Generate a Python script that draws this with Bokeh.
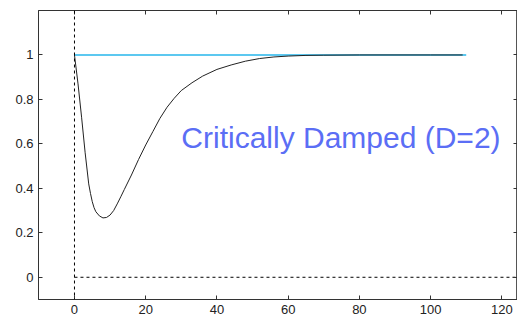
from bokeh.plotting import figure
from bokeh.models import Range1d, LinearAxis, FixedTicker, CustomJSTickFormatter, Span
from bokeh.core.properties import value
from bokeh.embed import file_html
from bokeh.resources import INLINE

# Response curve
t = [0, 1, 2, 3, 4, 4.5, 5, 5.5, 6, 7, 8, 9, 10, 11, 12, 13, 14, 16, 18, 20, 22,
     24, 26, 28, 30, 33, 36, 40, 44, 48, 52, 56, 60, 65, 70, 80, 90, 100, 109]
response = [1.0, 0.87, 0.72, 0.56, 0.42, 0.377, 0.34, 0.313, 0.295, 0.276,
            0.267, 0.269, 0.28, 0.30, 0.33, 0.362, 0.395, 0.46, 0.53, 0.595,
            0.655, 0.715, 0.765, 0.805, 0.84, 0.875, 0.905, 0.935, 0.955,
            0.972, 0.984, 0.991, 0.995, 0.998, 0.999, 1.0, 1.0, 1.0, 1.0]

# Target (set point) line
target_x = [0, 110]
target_y = [1, 1]

# Zero reference line
zero_x = [0, 125]
zero_y = [0, 0]

x_ticks = [0, 20, 40, 60, 80, 100, 120]
y_ticks = [0, 0.2, 0.4, 0.6, 0.8, 1]

label_text = ["Critically Damped (D=2)"]
label_x = [30]
label_y = [0.63]

p = figure(width=517, height=320, output_backend="svg", toolbar_location=None,
           x_range=Range1d(-10.1, 124.4), y_range=Range1d(-0.1, 1.2),
           x_axis_type=None, y_axis_type=None,
           min_border_left=38, min_border_right=0, min_border_top=10, min_border_bottom=21)
p.background_fill_color = "white"
p.border_fill_color = "white"
p.outline_line_color = "#555555"
p.outline_line_width = 1
p.xgrid.visible = False
p.ygrid.visible = False

fmt = CustomJSTickFormatter(code="return String(Number(tick.toFixed(2)));")
blank = CustomJSTickFormatter(code="return '';")

def style(ax, labels=True):
    ax.major_tick_in = 4
    ax.major_tick_out = 0
    ax.minor_tick_line_color = None
    ax.axis_line_color = "#333333"
    ax.major_tick_line_color = "#333333"
    if labels:
        ax.major_label_text_font = "Liberation Sans"
        ax.major_label_text_font_size = "13px"
        ax.major_label_text_color = "#222222"
        ax.major_label_standoff = 5
    else:
        ax.major_label_text_font_size = "1px"
        ax.major_label_text_color = None
        ax.major_label_standoff = 0

xb = LinearAxis(ticker=FixedTicker(ticks=x_ticks), formatter=fmt)
style(xb)
p.add_layout(xb, "below")
yl = LinearAxis(ticker=FixedTicker(ticks=y_ticks), formatter=fmt)
style(yl)
p.add_layout(yl, "left")
xt = LinearAxis(ticker=FixedTicker(ticks=x_ticks), formatter=blank)
style(xt, labels=False)
p.add_layout(xt, "above")
yr = LinearAxis(ticker=FixedTicker(ticks=y_ticks), formatter=blank)
style(yr, labels=False)
p.add_layout(yr, "right")

p.add_layout(Span(location=0, dimension="height", line_color="black",
                  line_dash="3 3", line_width=1))
p.line(zero_x, zero_y, line_color="black", line_dash="3 3", line_width=1)

p.line(target_x, target_y, line_color="#5cc8f0", line_width=2)
p.line(t, response, line_color="#222222", line_width=1)

p.text(x=label_x, y=label_y, text=label_text, text_font=value("Liberation Sans"),
       text_font_size="30px", text_color="#5b6ef5", text_baseline="alphabetic",
       text_align="left")

open("out.html", "w").write(file_html(p, INLINE))
